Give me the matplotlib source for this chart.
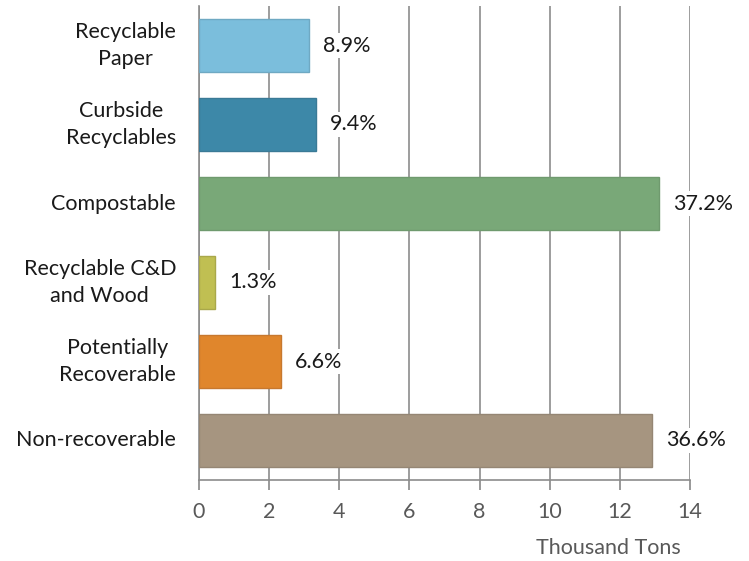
import matplotlib
matplotlib.use("Agg")
import matplotlib.pyplot as plt

categories = ["Recyclable\nPaper", "Curbside\nRecyclables", "Compostable",
              "Recyclable C&D\nand Wood", "Potentially\nRecoverable", "Non-recoverable"]
tons = [3.14, 3.33, 13.13, 0.47, 2.33, 12.92]
pct_labels = ["8.9%", "9.4%", "37.2%", "1.3%", "6.6%", "36.6%"]
colors = ["#7BBEDC", "#3D88A8", "#79A878", "#C0BF52", "#E0862C", "#A69580"]
edges = ["#6FA9C3", "#3A7A96", "#6F9A6E", "#A9A84A", "#C7782E", "#958674"]
xticks = [0, 2, 4, 6, 8, 10, 12, 14]

plt.rcParams["font.family"] = ["Lato", "DejaVu Sans"]
FS = 15.5

fig = plt.figure(figsize=(7.49, 5.61), dpi=100)
ax_w_px = 491
ax = fig.add_axes([199 / 749, 1 - 480 / 561, ax_w_px / 749, 474 / 561])

y = list(range(len(categories)))
ax.barh(y, tons, height=0.68, color=colors, edgecolor=edges, linewidth=1.0, zorder=3)

for yi, v, lab in zip(y, tons, pct_labels):
    ax.annotate(lab, xy=(v, yi), xytext=(10, 0), textcoords="offset points",
                va="center", ha="left", fontsize=FS, color="#1a1a1a", zorder=4,
                bbox=dict(facecolor="white", edgecolor="none", pad=1.5))

ax.set_ylim(len(categories) - 0.5, -0.5)
ax.set_xlim(0, 14)
ax.set_xticks(xticks)
ax.set_xticklabels([str(t) for t in xticks], fontsize=FS, color="#595959")
ax.set_yticks(y)
ax.set_yticklabels([])
ax.tick_params(axis="y", length=0)
ax.tick_params(axis="x", length=7, color="#888888", width=1.2, pad=9)

# category labels, right-aligned with centred lines
ytr = ax.get_yaxis_transform()
for yi, cat in zip(y, categories):
    ax.text(-23 / ax_w_px, yi, cat, transform=ytr, ha="right", va="center",
            multialignment="center", fontsize=FS, color="#1a1a1a",
            linespacing=1.38)

ax.grid(axis="x", color="#8c8c8c", linewidth=1.2, zorder=0)
ax.set_axisbelow(True)
for s in ["top", "right"]:
    ax.spines[s].set_visible(False)
for s in ["left", "bottom"]:
    ax.spines[s].set_color("#8c8c8c")
    ax.spines[s].set_linewidth(1.2)

ax.set_xlabel("Thousand Tons", fontsize=FS, color="#595959")
ax.xaxis.set_label_coords((608 - 199) / ax_w_px, -0.122)

fig.savefig("out.png", dpi=100, facecolor="white")
